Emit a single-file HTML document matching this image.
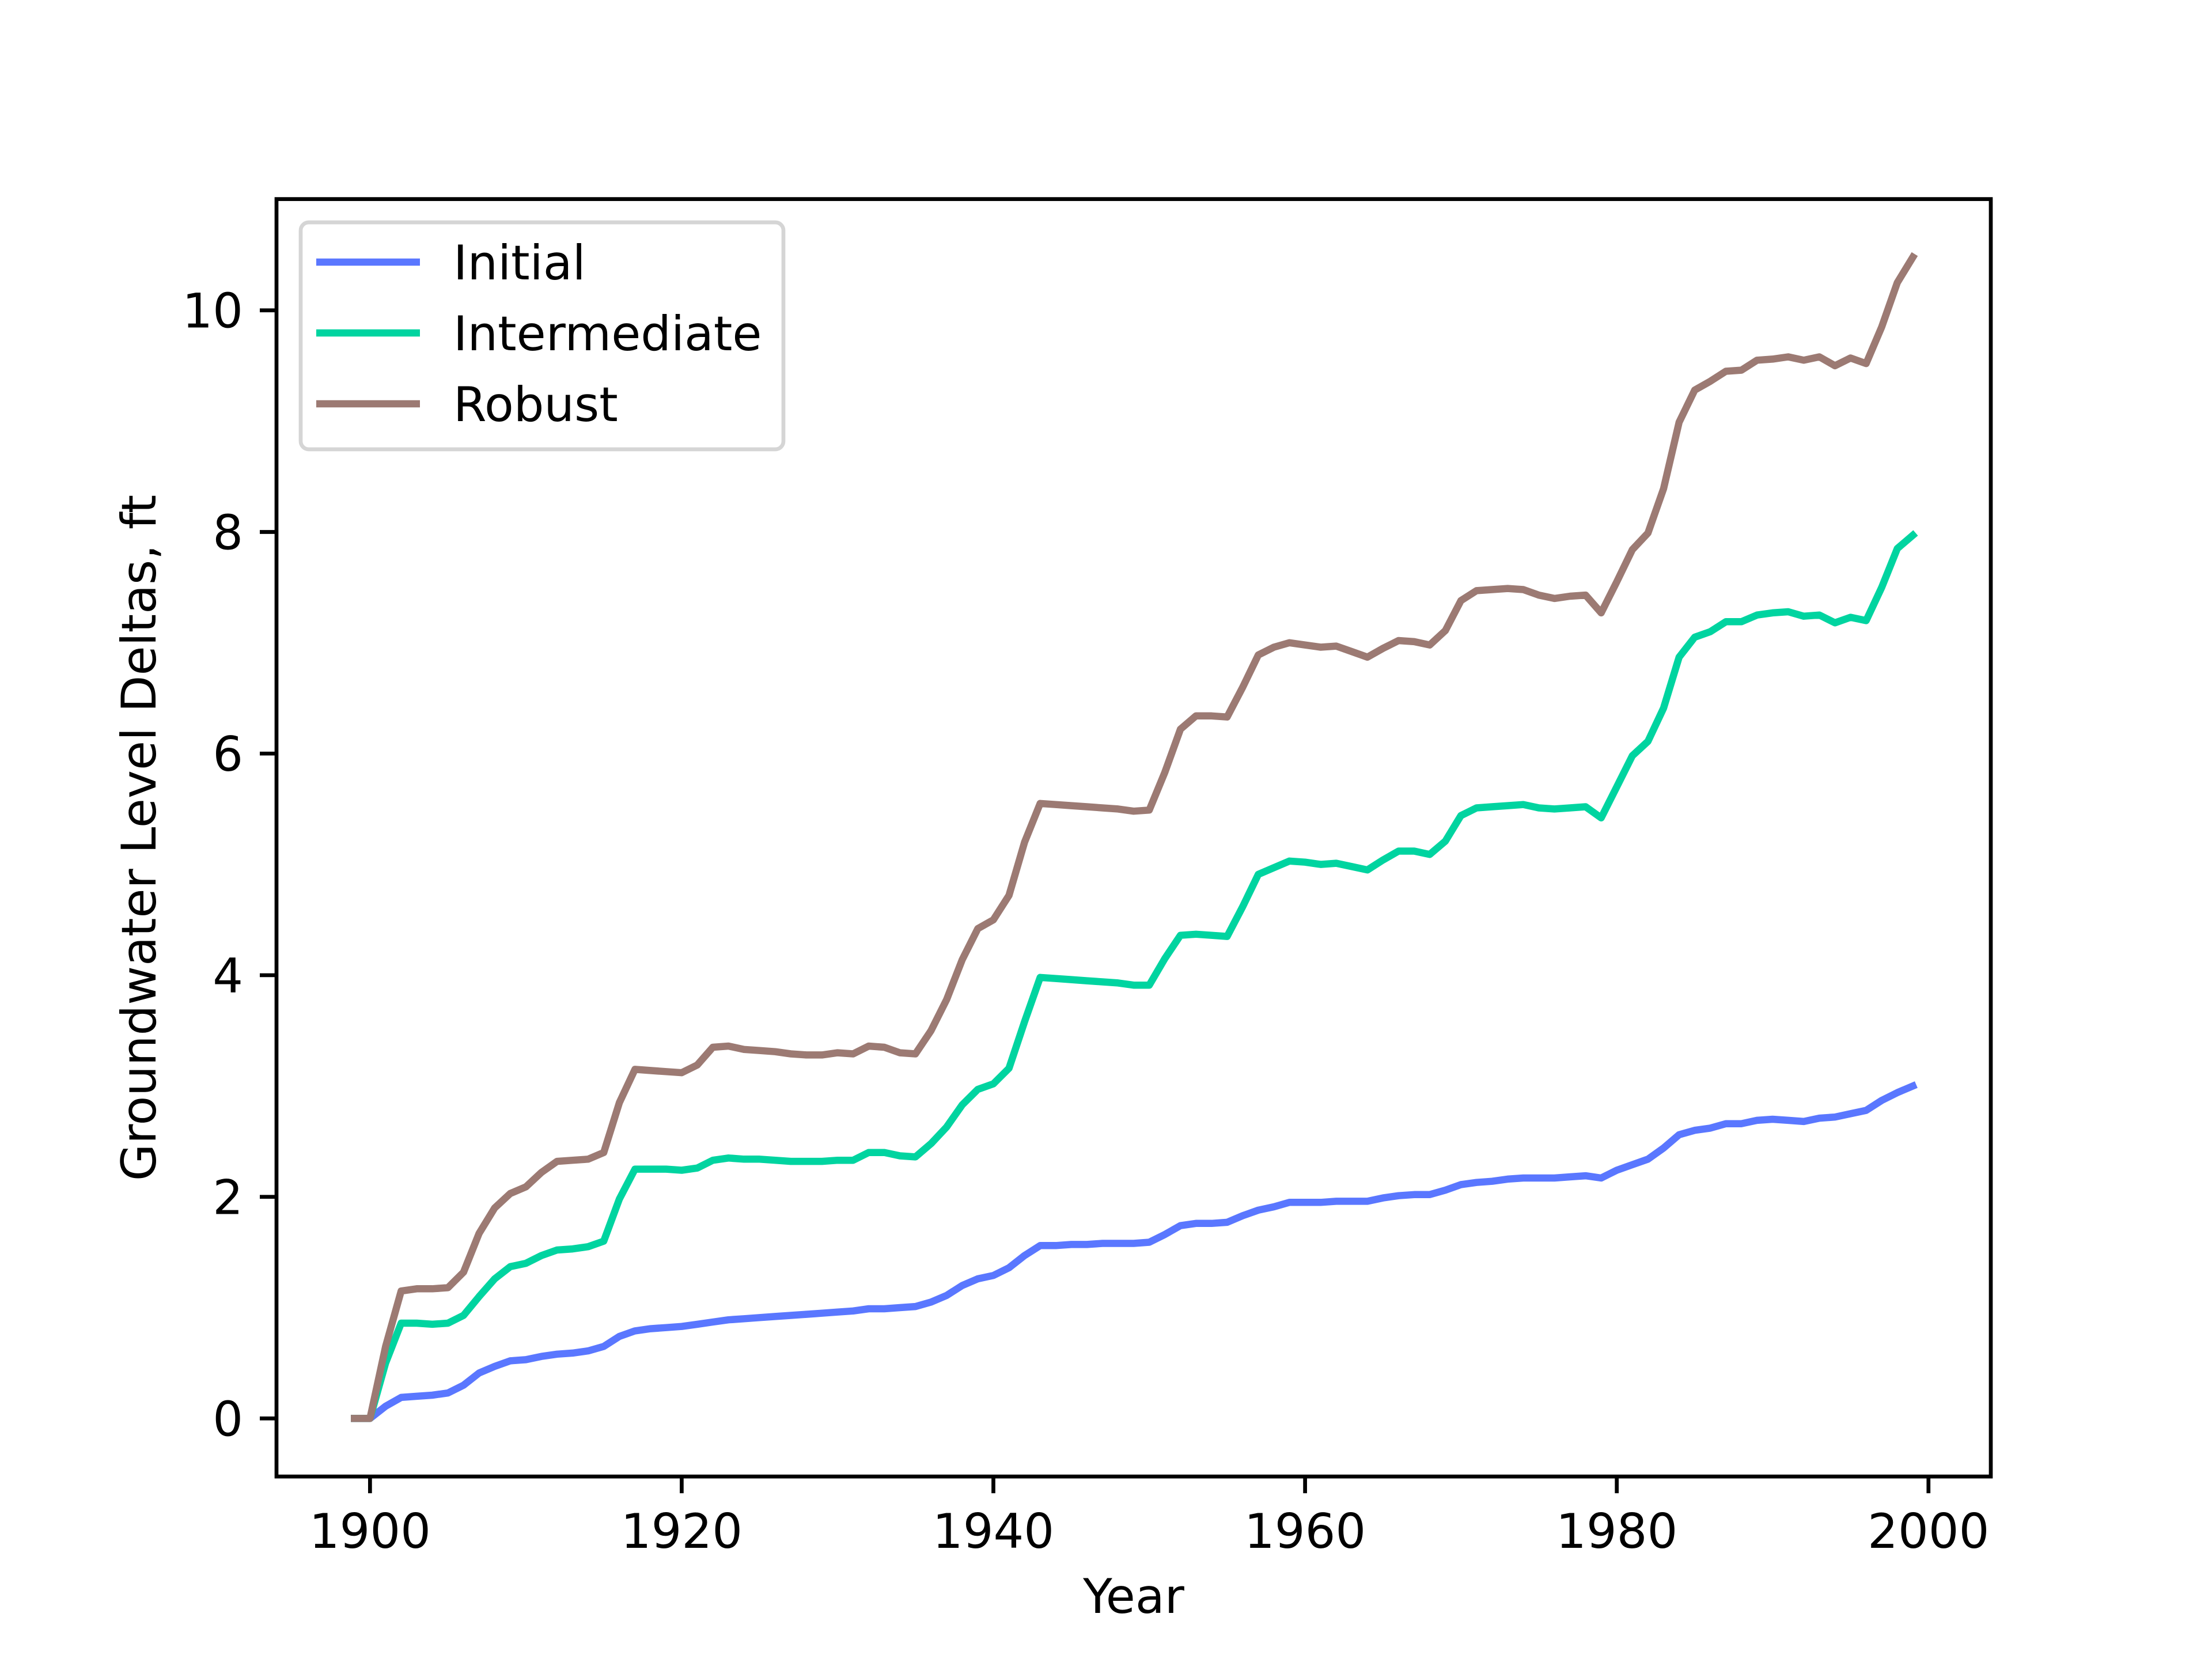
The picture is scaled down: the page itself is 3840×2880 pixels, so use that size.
<!DOCTYPE html>
<html><head><meta charset="utf-8"><style>
html,body{margin:0;padding:0;background:#fff}
svg{display:block}
text{font-family:"DejaVu Sans","Liberation Sans",sans-serif;fill:#000}
</style></head><body>
<svg id="chart" width="3840" height="2880" viewBox="0 0 3840 2880" xmlns="http://www.w3.org/2000/svg">
<rect width="3840" height="2880" fill="#fff"/>
<g id="plot"></g>
</svg>
<script>
const years = [];
for (let y = 1899; y <= 1999; y++) years.push(y);
const initialValues = [0,0,0.11,0.19,0.2,0.21,0.23,0.3,0.41,0.47,0.52,0.53,0.56,0.58,0.59,0.61,0.65,0.74,0.79,0.81,0.82,0.83,0.85,0.87,0.89,0.9,0.91,0.92,0.93,0.94,0.95,0.96,0.97,0.99,0.99,1.0,1.01,1.05,1.11,1.2,1.26,1.29,1.36,1.47,1.56,1.56,1.57,1.57,1.58,1.58,1.58,1.59,1.66,1.74,1.76,1.76,1.77,1.83,1.88,1.91,1.95,1.95,1.95,1.96,1.96,1.96,1.99,2.01,2.02,2.02,2.06,2.11,2.13,2.14,2.16,2.17,2.17,2.17,2.18,2.19,2.17,2.24,2.29,2.34,2.44,2.56,2.6,2.62,2.66,2.66,2.69,2.7,2.69,2.68,2.71,2.72,2.75,2.78,2.87,2.94,3.0];
const intermediateValues = [0,0,0.5,0.86,0.86,0.85,0.86,0.93,1.1,1.26,1.37,1.4,1.47,1.52,1.53,1.55,1.6,1.98,2.25,2.25,2.25,2.24,2.26,2.33,2.35,2.34,2.34,2.33,2.32,2.32,2.32,2.33,2.33,2.4,2.4,2.37,2.36,2.48,2.63,2.83,2.97,3.02,3.16,3.58,3.98,3.97,3.96,3.95,3.94,3.93,3.91,3.91,4.15,4.36,4.37,4.36,4.35,4.62,4.91,4.97,5.03,5.02,5.0,5.01,4.98,4.95,5.04,5.12,5.12,5.09,5.21,5.44,5.51,5.52,5.53,5.54,5.51,5.5,5.51,5.52,5.42,5.7,5.98,6.11,6.41,6.87,7.05,7.1,7.19,7.19,7.25,7.27,7.28,7.24,7.25,7.18,7.23,7.2,7.5,7.85,7.97];
const robustValues = [0,0,0.65,1.15,1.17,1.17,1.18,1.32,1.67,1.9,2.03,2.09,2.22,2.32,2.33,2.34,2.4,2.85,3.15,3.14,3.13,3.12,3.19,3.35,3.36,3.33,3.32,3.31,3.29,3.28,3.28,3.3,3.29,3.36,3.35,3.3,3.29,3.5,3.78,4.14,4.42,4.5,4.72,5.2,5.55,5.54,5.53,5.52,5.51,5.5,5.48,5.49,5.83,6.22,6.34,6.34,6.33,6.6,6.89,6.96,7.0,6.98,6.96,6.97,6.92,6.87,6.95,7.02,7.01,6.98,7.11,7.38,7.47,7.48,7.49,7.48,7.43,7.4,7.42,7.43,7.27,7.55,7.84,7.99,8.39,8.99,9.28,9.36,9.45,9.46,9.55,9.56,9.58,9.55,9.58,9.5,9.57,9.52,9.85,10.25,10.48];
const xTicks = [1900,1920,1940,1960,1980,2000];
const yTicks = [0,2,4,6,8,10];
const seriesNames = ["Initial","Intermediate","Robust"];
const seriesColors = ["#5a77ff","#00d4a0","#9c7a73"];

const NS = "http://www.w3.org/2000/svg";
const L = 480, R = 3456, T = 345.6, B = 2563.2;
const allVals = initialValues.concat(intermediateValues, robustValues);
const dMinX = Math.min(...years), dMaxX = Math.max(...years);
const dMinY = Math.min(...allVals), dMaxY = Math.max(...allVals);
const mx = (dMaxX - dMinX) * 0.05, my = (dMaxY - dMinY) * 0.05;
const x0 = dMinX - mx, x1 = dMaxX + mx, y0 = dMinY - my, y1 = dMaxY + my;
const xs = v => L + (v - x0) / (x1 - x0) * (R - L);
const ys = v => B - (v - y0) / (y1 - y0) * (B - T);
const plot = document.getElementById("plot");
function mk(tag, attrs, parent) {
  const e = document.createElementNS(NS, tag);
  for (const k in attrs) e.setAttribute(k, attrs[k]);
  (parent || plot).appendChild(e);
  return e;
}
const defs = mk("defs", {});
const cp = mk("clipPath", {id: "clip"}, defs);
mk("rect", {x: L, y: T, width: R - L, height: B - T}, cp);
const seriesData = [initialValues, intermediateValues, robustValues];
seriesData.forEach((vals, i) => {
  const pts = vals.map((v, j) => xs(years[j]).toFixed(1) + "," + ys(v).toFixed(1)).join(" ");
  const pl = mk("polyline", {points: pts, fill: "none", stroke: seriesColors[i], "stroke-width": 12.5, "stroke-linejoin": "round", "stroke-linecap": "square", "clip-path": "url(#clip)"});
  
  
});
const frame = mk("rect", {x: L, y: T, width: R - L, height: B - T, fill: "none", stroke: "#000", "stroke-width": 6.7});


xTicks.forEach(t => {
  const x = xs(t);
  const tk = mk("line", {x1: x, y1: B, x2: x, y2: B + 29, stroke: "#000", "stroke-width": 6.7});
  
  
  const tx = mk("text", {x: x, y: 2687, "font-size": 83, "text-anchor": "middle"});
  tx.textContent = t;
  
  
});
yTicks.forEach(t => {
  const y = ys(t);
  const tk = mk("line", {x1: L - 29, y1: y, x2: L, y2: y, stroke: "#000", "stroke-width": 6.7});
  
  
  const tx = mk("text", {x: 422, y: y + 30, "font-size": 83, "text-anchor": "end"});
  tx.textContent = t;
  
  
});
const xt = mk("text", {x: (L + R) / 2, y: 2800, "font-size": 83, "text-anchor": "middle"});
xt.textContent = "Year";


const yt = mk("text", {x: 0, y: 0, "font-size": 83, "text-anchor": "middle", transform: "translate(270," + ((T + B) / 2) + ") rotate(-90)"});
yt.textContent = "Groundwater Level Deltas, ft";


const lg = mk("g", {});


mk("rect", {x: 522, y: 386, width: 838, height: 394, rx: 14, fill: "#fff", "fill-opacity": 0.8, stroke: "#d5d5d5", "stroke-width": 6.7}, lg);
seriesNames.forEach((n, i) => {
  const y = 455 + i * 123;
  const ln = mk("line", {x1: 549, y1: y, x2: 729, y2: y, stroke: seriesColors[i], "stroke-width": 12.5}, lg);
  
  
  const tx = mk("text", {x: 787, y: y + 30, "font-size": 83}, lg);
  tx.textContent = n;
  
  
});
</script>
</body></html>
